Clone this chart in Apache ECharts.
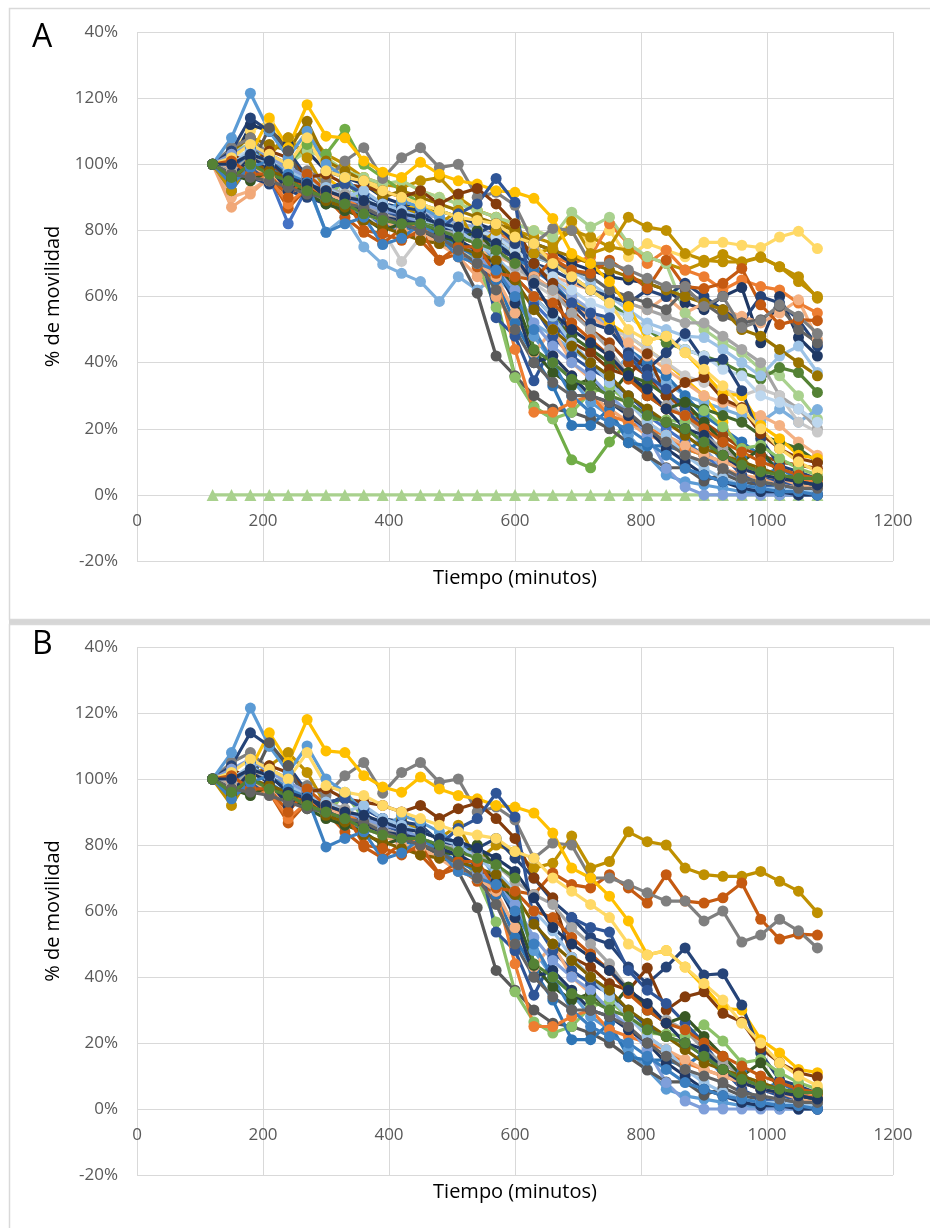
<!DOCTYPE html>
<html>
<head>
<meta charset="utf-8">
<script src="https://cdn.jsdelivr.net/npm/echarts@6/dist/echarts.min.js"></script>
<style>
  html, body { margin: 0; padding: 0; background: #fff; }
  #chart { width: 930px; height: 1228px; }
</style>
</head>
<body>
<div id="chart"></div>
<script>
// Tiempo (minutos), shared by every series
const tiempo = [120,150,180,210,240,270,300,330,360,390,420,450,480,510,540,570,600,630,660,690,720,750,780,810,840,870,900,930,960,990,1020,1050,1080];

const xTicks = [0, 200, 400, 600, 800, 1000, 1200];
const yTickLabels = ['-20%','0%','20%','40%','60%','80%','100%','120%','40%'];

/* ---- series shown in both panels (B is a subset of A) ---- */
const b01 = [100,92,101,104,108,102,92,90,88,86,88, 84,82,86,75,80,78,73,74.5,82.7,73,75, 84,81,80,73,71,70.5,70.5,72,69,66,59.5];
const b02 = [100,102,97,96,86.7,93,90,84,79.4,76,80.6, 77,71,73,69,65,66,65,71.5,68,67,71, 67,62.4,71,63,62.4,64,68.5,57.5,51.5,53,52.7];
const b03 = [100,105,108,103,100,98,95,101,105,95.7,102, 105,99,100,90,91.5,87.6,76,80.6,80,70,70, 68,65.5,63,63,57,60,50.6,52.7,57.5,54,48.8];
const b04 = [100,97,103,114,105,118,108.5,108,101,97.6,96, 100.6,97,95,94,92,91.5,89.7,83.6,73,70,64.5, 57,46.7,48,43,37,30.6,30,21,17,12,11];
const b05 = [100,104,114,110,104,96,92,95,91,88,87, 86,81,80,79,82,76,70,63,58,52,50, 43,38,43,48.8,40.6,41,31.5,17,8.8,7,4.8];
const b06 = [100,103,100,104,102,96,97,94,93,92,90, 92,88,91,92.7,88,82,70,64,46,43,38, 36,42.7,30,34,35.5,29,26.4,18.5,14,11,9.7];
const b07 = [100,108,121.5,110,102,110,100,96,90,85,89, 87,84,80,78,70,62,48,40,35,28,24, 18,12,6,4,3,2,1,0.5,0,0,0];
const b08 = [100,97,99,111,104,92,90,88,86,84,82, 80,77,72,61,42,36,30,26,25,23,20, 15.8,11.8,8.2,8.2,4.2,6.4,4,3,2,2,1.5];
const b09 = [100,95,98,95.5,97,92,89,95.7,88,86,85, 82,80,78,70,56.7,35.5,26.4,23,25,31,32.7, 27.9,23,22.7,22,25.5,20.6,14,15,11,8,6];
const b10 = [100,96,105,99,95,93,90,86,85,83,81, 80,78,75,72,65,52,42,33,21,21,26, 15.8,14.8,14.8,13,17,10,11,6,8,5,3];
const b11 = [100,99,104,100,98,95,93,94,91,88,86, 84,82,80,78,53.6,48,34.5,45.7,58,55,53.6, 42,36,32,26,20,12,6,3,2,1,0];
const b12 = [100,101,98,97,95,92,90,89,88,86,84, 81,80,85,88,95.7,88.5,57,48,42,38,35, 30,25,22,20,16,12,8,6,4,3,3];
const b13 = [100,98,97,96,88,93,91,90,86,84,83, 80,79,78,72,66,44,25,25,28,30,24, 22,20,18,14,12,10,8,6,5,4,4];
const b14 = [100,99,100,96,94,95,92,88,85,83,80, 79,76,72,70,66,55,43,50,40,35,30, 28,22,18,15,12,10,8,6,5,3,2];
const b15 = [100,98,102,100,99,96,93,91,88,85,83, 82,80,79,77,74,69,65,62,55,50,44, 36,30,27,24,18,14,10,8,6,4,3];
const b16 = [100,97,95,98,94,91,88,86,84,80,82, 80,78,77,80,73,60,43.5,37,33,35,30, 37,30,26,28,22,16,10,14,6,4,3];
const b17 = [100,103,106,102,99,96,92,90,88,86,85, 82,80,78,72,68,62,52,45,40,36,30, 25,18,8,2.4,0,0,0,0,0,0,0];
const b18 = [100,100,104,100,98,95,93,90,92,88,86, 84,82,80,76,72,66,60,54,46,40,34, 28,22,18,12,8,5,3,2,2,1,1];
const b19 = [100,102,106,103,100,108,98,96,95,92,90, 88,86,84,83,82,78,76,70,66,62,58, 50,46.7,48,43,38,33,26,20,14,10,7];
const b20 = [100,96,102,99,92,95,90,88,86,84,83, 82,79,77,74,69,58,40,42,36,30,28, 24,20,14,10,6,4,2,1,1,0,0];
const b21 = [100,95,100,98,96,93,89,87,83,81,79, 77,76,75,73,71,65,56,50,45,40,36, 30,26,22,18,14,12,10,8,6,5,5];
const b22 = [100,101,97,97,90,97,92,90,80,79,77, 80,71,75,75,67,66,60,58,52,47,42, 35,30,26,24,20,16,13,10,8,6,5];
const b23 = [100,94,99,101,97,94.5,79.4,82,84,75.7,77.6, 82,78,72,70,68,60,50,40,30,25,22, 20,16,12,8,6,4,3,2,1,1,0];
const b24 = [100,97,96,95,93,91,90,88,87,84,82, 80,78,74,70,62,50,40,34,30,30,28, 25,20,16,12,10,8,5,4,3,2,2];
const b25 = [100,100,103,101,96,94,92,90,89,87,85, 84,82,81,79,76,72,64,55,50,46,42, 36,32,26,20,18,12,8,6,5,4,3];
const b26 = [100,96,100,97,95,92,90,88,85,83,82, 82,80,78,76,74,70,44,40,35,33,30, 28,24,22,20,16,12,9,7,6,5,5];

/* ---- series only in panel A ---- */
const a00 = [0,0,0,0,0,0,0,0,0,0,0, 0,0,0,0,0,0,0,0,0,0,0, 0,0,0,0,0,0,0,0,0,0,0];
const a01 = [100,104,110,113,105,108,100,97,96,93,95, 92,90,88,86,84,82,80,78,82,76,80, 72,76,74,72,76.4,76.4,75.5,74.8,78,79.7,74.5];
const a02 = [100,98,105,103,108,110,103,100,96,94,93, 95,96,90,86,84,80,78,76,80,78,75, 74,72,70,68,70.3,72.7,70.3,71.8,69,64.5,60];
const a03 = [100,96,100,98,92,96,94,90,88,86,84, 82,82,80,78,80,76,74,72,70,72,82, 76,70,74,68,66,62,65,63,62,58,55];
const a04 = [100,100,112,110,106,104,98,96,94,90,88, 86,86,84,82,80,78,76,74,70,68,66, 65,64,62,58,56,60,62.7,46,60,47.6,42];
const a05 = [100,90,92,96,92,94,90,88,86,84,82, 80,78,76,74,72,70,68,66,64,62,60, 58,56,60,55,58,56,54,52,55,59,47];
const a06 = [100,104,106,103,100,104,102,98,96,94,95, 92,90,88,86,84,82,80,78,85.5,81,84, 76,72,70,55,50,46,43,38,36,30,23];
const a07 = [100,97,101,99,96,94,92,90,89,87,85, 83,81,80,78,76,74,72,70,66,62,58, 54,50,46,44,42,40,37,35,38.5,37,31];
const a08 = [100,99,101,98,96,94,92,90,88,86,84, 83,82,80,78,76,74,72,70,68,64,60, 56,52,50,48,47.6,44,40,36,42,45,37];
const a09 = [100,98,100,97,92,94,79.4,84,75,69.7,67, 64.5,58.5,66,62,66,60,52,48,44,40,36, 42,38,34,30,28,26,24,22,26,22,25.8];
const a10 = [100,97,104,102,100,106,103,110.6,100,96,92, 88,86,84,78,60,35.8,26.7,23,10.6,8.2,16, 22,20,18,14,12,8,5,4,2,1,1];
const a11 = [100,87,91,96,94,92,90,88,86,84,80, 82,78,72,66,60,52,48,42,36,30,26, 22,18,16,12,10,8,6,5,4,3,2];
const a12 = [100,92,100,96,82,93,90,87,84,82,80, 78,76,74,70,66,62,58,52,46,40,34, 28,24,20,16,12,8,4,2,2,1,1];
const a13 = [100,101,103,100,97,95,93,92,90,88,86, 85,84,82,80,78,76,74,70,66,62,60, 58,56,54,52,52,48,44,40,30,26,20];
const a14 = [100,96,98,95,97,94,92,89,87,84,86, 84,82,80,78,75,72,68,64,58,55,50, 44,40,36,30,24,20,16,12,8,5,4];
const a15 = [100,99,102,100,98,95,96,92,90,88,86, 88,84,82,80,78,74,70,66,60,55,52, 48,44,40,35,30,22,12,4,0,0,0];
const a16 = [100,98,96,94,92,90,88,87,86,84,82, 80,79,78,76,74,72,70,68,65,62,60, 58,62,60,64,60,56,52,60,58,53,45];
const a17 = [100,101,100,99,97,95,93,92,90,88,86, 84,82,80,79,77,75,73,70,68,66,62, 60,58,56,62,58,54,52,53,57,50,46];
const a18 = [100,98,99,97,95,93,90,88,85,80,70.6, 78,76,74,72,70,68,64,60,56,54,50, 48,44,40,36,34,32,30,32,30,22,19];
const a19 = [100,97,99,100,96,94,92,90,88,86,84, 82,80,78,76,74,70,66,62,56,50,46, 40,36,30,26,22,18,14,12,10,9,8];
const a20 = [100,101,103,100,98,96,93,91,89,88,87, 85,84,82,81,78,75,70,65,60,56,50, 44,38,30,22,14,8,4,0,0,0,0];
const a21 = [100,97,96,95,94,92,90,88,86,84,83, 82,80,78,76,74,70,66,62,58,54,50, 46,42,38,34,30,28,26,24,21,16,12];
const a22 = [100,96,99,97,94,92,90,88,86,84,82, 80,78,76,74,70,66,60,54,48,44,40, 36,34,30,28,26,24,22,18,16,14,10];
const a23 = [100,102,104,101,99,97,94,92,90,88,86, 84,82,81,80,78,74,70,66,62,58,56, 54,50,48,44,42,38,36,30,28,26,22];
const a24 = [100,104,108,106,104,113,101,98,95,90,92, 90,88,86,84,82,80,76,74,72,70,68, 66,64,62,60,58,56,50,48,44,40,36];

// colours, Excel office palette and its shades
const bSeries = [
  [b01,'#BF9000'],[b02,'#C55A11'],[b03,'#7F7F7F'],[b04,'#FFC000'],[b05,'#264478'],
  [b06,'#843C0C'],[b07,'#5B9BD5'],[b08,'#595959'],[b09,'#8CC168'],[b10,'#2E75B6'],
  [b11,'#2F5597'],[b12,'#2F5597'],[b13,'#ED7D31'],[b14,'#F4B183'],[b15,'#A5A5A5'],
  [b16,'#385723'],[b17,'#7F9FDA'],[b18,'#9DC3E6'],[b19,'#FFD966'],[b20,'#203864'],
  [b21,'#7F6000'],[b22,'#C55A11'],[b23,'#3C7FC0'],[b24,'#636363'],[b25,'#1F3864'],
  [b26,'#548235']
];
const aSeries = [
  [a01,'#FFD966'],[a02,'#BF9000'],[a03,'#ED7D31'],[a04,'#1F3864'],[a05,'#F4B183'],
  [a06,'#A9D18E'],[a07,'#548235'],[a08,'#9DC3E6'],[a09,'#7CAFDD'],[a10,'#70AD47'],
  [a11,'#F1A878'],[a12,'#4472C4'],[a13,'#A5A5A5'],[a14,'#2E75B6'],[a15,'#FFC000'],
  [a16,'#264478'],[a17,'#636363'],[a18,'#C9C9C9'],[a19,'#9E480E'],[a20,'#8FAADC'],
  [a21,'#F4B183'],[a22,'#43682B'],[a23,'#BDD7EE'],[a24,'#997300']
];

const FONT = '"Open Sans", "Noto Sans", sans-serif';
const GRID_LINE = '#D9D9D9';
const TICK_TEXT = '#595959';

function lineSeries(vals, color, gi, symbol) {
  return {
    type: 'line',
    xAxisIndex: gi,
    yAxisIndex: gi,
    data: tiempo.map((t, i) => [t, vals[i]]),
    symbol: symbol || 'circle',
    symbolSize: symbol === 'triangle' ? 12 : 11,
    showSymbol: true,
    lineStyle: { width: 3.2, color: color },
    itemStyle: { color: color },
    emphasis: { disabled: true },
    animation: false
  };
}

// the category axis sits on the 0% line, Excel style: 20% = 66px above the grid bottom
function xAxis(gi) {
  return {
    type: 'value', gridIndex: gi, min: 0, max: 1200, interval: 200,
    offset: -66,
    name: 'Tiempo (minutos)', nameLocation: 'middle', nameGap: 73,
    nameTextStyle: { color: '#000', fontSize: 20, fontFamily: FONT },
    axisLine: { show: false, onZero: false },
    axisTick: { show: false },
    axisLabel: { color: TICK_TEXT, fontSize: 17, fontFamily: FONT, margin: 18,
      formatter: v => xTicks.indexOf(v) >= 0 ? String(v) : '' },
    splitLine: { show: true, lineStyle: { color: GRID_LINE, width: 1 } }
  };
}

function yAxis(gi) {
  return {
    type: 'value', gridIndex: gi, min: -20, max: 140, interval: 20,
    name: '% de movilidad', nameLocation: 'middle', nameGap: 74,
    nameTextStyle: { color: '#000', fontSize: 20, fontFamily: FONT },
    axisLine: { show: false, onZero: false },
    axisTick: { show: false },
    axisLabel: { color: TICK_TEXT, fontSize: 17, fontFamily: FONT, margin: 19,
      formatter: v => yTickLabels[Math.round((v + 20) / 20)] },
    splitLine: { show: true, lineStyle: { color: GRID_LINE, width: 1 } }
  };
}

const series = [];
series.push(lineSeries(a00, '#A9D18E', 0, 'triangle'));
aSeries.forEach(s => series.push(lineSeries(s[0], s[1], 0)));
bSeries.forEach(s => series.push(lineSeries(s[0], s[1], 0)));
bSeries.forEach(s => series.push(lineSeries(s[0], s[1], 1)));

const chart = echarts.init(document.getElementById('chart'), null, { renderer: 'canvas' });
chart.setOption({
  backgroundColor: '#fff',
  animation: false,
  grid: [
    { left: 137, top: 32, width: 756, height: 529, containLabel: false, outerBoundsMode: 'none' },
    { left: 137, top: 647, width: 756, height: 528, containLabel: false, outerBoundsMode: 'none' }
  ],
  xAxis: [xAxis(0), xAxis(1)],
  yAxis: [yAxis(0), yAxis(1)],
  series: series,
  graphic: [
    { type: 'rect', shape: { x: 9.5, y: 8.5, width: 930, height: 611 }, silent: true,
      style: { fill: 'none', stroke: GRID_LINE, lineWidth: 1.5 }, z: -10 },
    { type: 'rect', shape: { x: 9, y: 620, width: 921, height: 4 }, silent: true,
      style: { fill: '#D6D6D6' }, z: -10 },
    { type: 'rect', shape: { x: 9.5, y: 624.5, width: 930, height: 610 }, silent: true,
      style: { fill: 'none', stroke: GRID_LINE, lineWidth: 1.5 }, z: -10 },
    { type: 'text', left: 32, top: 22, silent: true,
      style: { text: 'A', fontSize: 32, fontFamily: FONT, fill: '#000' } },
    { type: 'text', left: 32, top: 629, silent: true,
      style: { text: 'B', fontSize: 32, fontFamily: FONT, fill: '#000' } }
  ]
});
</script>
</body>
</html>
